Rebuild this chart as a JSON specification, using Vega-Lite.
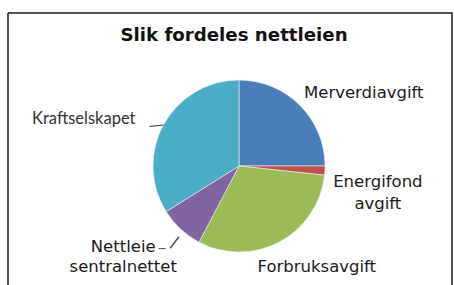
{
  "$schema": "https://vega.github.io/schema/vega-lite/v6.json",
  "width": 444,
  "height": 272,
  "autosize": {"type": "none"},
  "padding": {"left": 8, "top": 13, "right": 2, "bottom": 0},
  "background": "white",
  "title": {"text": "Slik fordeles nettleien", "font": "DejaVu Sans", "fontSize": 18.2, "fontWeight": "bold", "color": "#111111", "anchor": "middle", "offset": -33, "dx": 4},
  "data": {"values": [
    {"post": "Merverdiavgift", "andel": 25.0, "n": 1},
    {"post": "Energifond avgift", "andel": 1.7, "n": 2},
    {"post": "Forbruksavgift", "andel": 31.0, "n": 3},
    {"post": "Nettleie sentralnettet", "andel": 8.4, "n": 4},
    {"post": "Kraftselskapet", "andel": 33.9, "n": 5}
  ]},
  "layer": [
    {
      "data": {"values": [{"ramme": 1}]},
      "mark": {"type": "rect", "fill": "white", "stroke": "#1a1a1a", "strokeWidth": 1.5, "strokeDash": [716, 444, 272, 0]},
      "encoding": {}
    },
    {
      "mark": {"type": "arc", "outerRadius": 86, "xOffset": 9, "yOffset": 17, "stroke": "#f2f2f2", "strokeWidth": 0.6},
      "encoding": {
        "theta": {"field": "andel", "type": "quantitative", "stack": true},
        "order": {"field": "n", "type": "quantitative"},
        "color": {"field": "post", "type": "nominal", "legend": null,
          "scale": {"domain": ["Merverdiavgift", "Energifond avgift", "Forbruksavgift", "Nettleie sentralnettet", "Kraftselskapet"],
                    "range": ["#4a7ebb", "#c0504d", "#9bbb59", "#8064a2", "#4bacc6"]}}
      }
    },
    {
      "mark": {"type": "text", "radius": 110, "xOffset": 9, "yOffset": 17, "dx": 47, "dy": 5, "font": "DejaVu Sans", "fontSize": 16.5, "fill": "#1a1a1a"},
      "encoding": {
        "theta": {"field": "andel", "type": "quantitative", "stack": true},
        "order": {"field": "n", "type": "quantitative"},
        "text": {"condition": {"test": "datum.post === 'Merverdiavgift'", "field": "post"}, "value": ""}}
    },
    {
      "mark": {"type": "text", "radius": 110, "xOffset": 9, "yOffset": 17, "dx": 29, "dy": 10, "font": "DejaVu Sans", "fontSize": 16.5, "fill": "#1a1a1a", "lineBreak": " ", "lineHeight": 22},
      "encoding": {
        "theta": {"field": "andel", "type": "quantitative", "stack": true},
        "order": {"field": "n", "type": "quantitative"},
        "text": {"condition": {"test": "datum.post === 'Energifond avgift'", "field": "post"}, "value": ""}}
    },
    {
      "mark": {"type": "text", "radius": 110, "xOffset": 9, "yOffset": 17, "dx": 26, "dy": 4, "font": "DejaVu Sans", "fontSize": 16.5, "fill": "#1a1a1a"},
      "encoding": {
        "theta": {"field": "andel", "type": "quantitative", "stack": true},
        "order": {"field": "n", "type": "quantitative"},
        "text": {"condition": {"test": "datum.post === 'Forbruksavgift'", "field": "post"}, "value": ""}}
    },
    {
      "mark": {"type": "text", "radius": 110, "xOffset": 9, "yOffset": 17, "dx": -41, "dy": 0, "font": "DejaVu Sans", "fontSize": 16.5, "fill": "#1a1a1a", "lineBreak": " ", "lineHeight": 20},
      "encoding": {
        "theta": {"field": "andel", "type": "quantitative", "stack": true},
        "order": {"field": "n", "type": "quantitative"},
        "text": {"condition": {"test": "datum.post === 'Nettleie sentralnettet'", "field": "post"}, "value": ""}}
    },
    {
      "mark": {"type": "text", "radius": 110, "xOffset": 9, "yOffset": 17, "dx": -59, "dy": 6, "font": "Lato", "fontSize": 16.5, "fill": "#333333"},
      "encoding": {
        "theta": {"field": "andel", "type": "quantitative", "stack": true},
        "order": {"field": "n", "type": "quantitative"},
        "text": {"condition": {"test": "datum.post === 'Kraftselskapet'", "field": "post"}, "value": ""}}
    },
    {
      "mark": {"type": "text", "radius": 110, "xOffset": 9, "yOffset": 17, "dx": 12, "dy": 14, "font": "Liberation Sans", "fontSize": 14, "fill": "#444444", "angle": -6},
      "encoding": {
        "theta": {"field": "andel", "type": "quantitative", "stack": true},
        "order": {"field": "n", "type": "quantitative"},
        "text": {"condition": {"test": "datum.post === 'Kraftselskapet'", "value": "—"}, "value": ""}}
    },
    {
      "mark": {"type": "text", "radius": 110, "xOffset": 9, "yOffset": 17, "dx": -2, "dy": -5, "font": "Liberation Sans", "fontSize": 12, "fill": "#444444"},
      "encoding": {
        "theta": {"field": "andel", "type": "quantitative", "stack": true},
        "order": {"field": "n", "type": "quantitative"},
        "text": {"condition": {"test": "datum.post === 'Nettleie sentralnettet'", "value": "_"}, "value": ""}}
    },
    {
      "mark": {"type": "text", "radius": 110, "xOffset": 9, "yOffset": 17, "dx": 8, "dy": -7, "font": "Liberation Sans", "fontSize": 19, "fill": "#444444", "angle": 22},
      "encoding": {
        "theta": {"field": "andel", "type": "quantitative", "stack": true},
        "order": {"field": "n", "type": "quantitative"},
        "text": {"condition": {"test": "datum.post === 'Nettleie sentralnettet'", "value": "/"}, "value": ""}}
    }
  ]
}
